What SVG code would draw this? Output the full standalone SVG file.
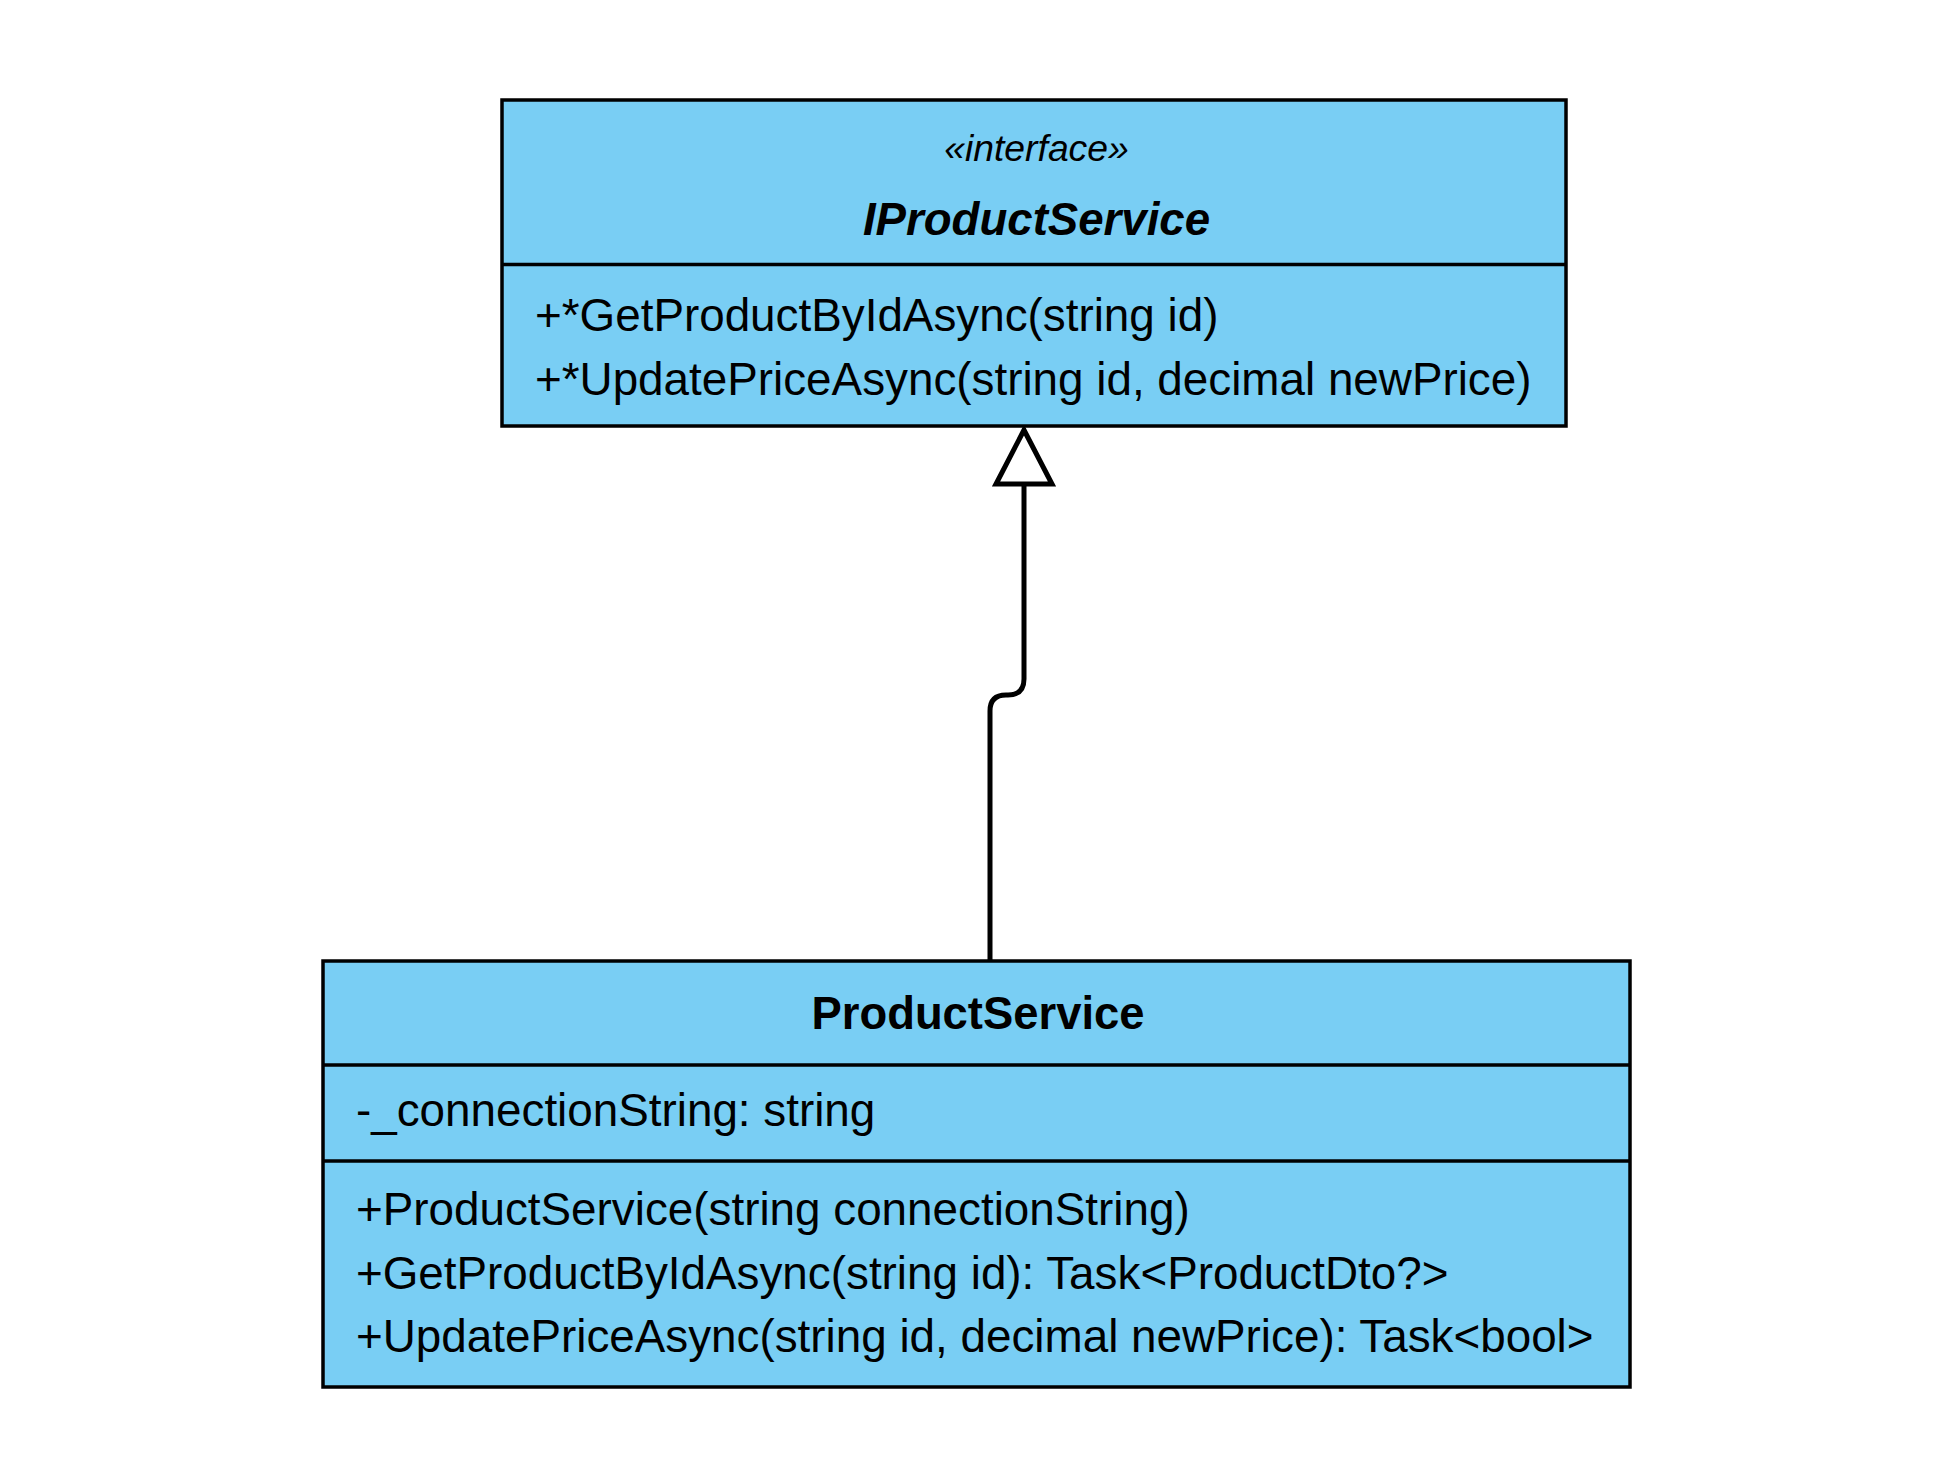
<svg xmlns="http://www.w3.org/2000/svg" width="1954" height="1484" viewBox="0 0 1954 1484">
<style>
.box{fill:#79cef4;stroke:#000;stroke-width:3.5}
.div{stroke:#000;stroke-width:3.5}
.t{font-family:"Liberation Sans",Arial,Helvetica,sans-serif;fill:#000}
.m{font-size:45.8px}
.c{text-anchor:middle}
.edge{fill:none;stroke:#000;stroke-width:5;stroke-linejoin:round}
</style>
<rect width="1954" height="1484" fill="#fff"/>
<g id="connectors">
<path class="edge" d="M 990 961 V 711 Q 990 695 1006 695 H 1008 Q 1024 695 1024 679 V 484"/>
<polygon points="1024,430 996,484 1052,484" fill="#fff" stroke="#000" stroke-width="5" stroke-linejoin="miter"/>
</g>
<g id="IProductService">
<rect class="box" x="502" y="100" width="1064" height="326"/>
<line class="div" x1="502" y1="264.5" x2="1566" y2="264.5"/>
<text class="t c" x="1036.5" y="161" font-size="37.3" font-style="italic">«interface»</text>
<text class="t c" x="1036.5" y="234.5" font-size="45.6" font-style="italic" font-weight="bold">IProductService</text>
<text class="t m" x="535" y="331">+*GetProductByIdAsync(string id)</text>
<text class="t m" x="535" y="394.5">+*UpdatePriceAsync(string id, decimal newPrice)</text>
</g>
<g id="ProductService">
<rect class="box" x="323" y="961" width="1307" height="426"/>
<line class="div" x1="323" y1="1065" x2="1630" y2="1065"/>
<line class="div" x1="323" y1="1161" x2="1630" y2="1161"/>
<text class="t c" x="978" y="1029" font-size="45.4" font-weight="bold">ProductService</text>
<text class="t m" x="356" y="1126">-_connectionString: string</text>
<text class="t m" x="356" y="1225">+ProductService(string connectionString)</text>
<text class="t m" x="356" y="1288.5">+GetProductByIdAsync(string id): Task&lt;ProductDto?&gt;</text>
<text class="t m" x="356" y="1352">+UpdatePriceAsync(string id, decimal newPrice): Task&lt;bool&gt;</text>
</g>
</svg>
